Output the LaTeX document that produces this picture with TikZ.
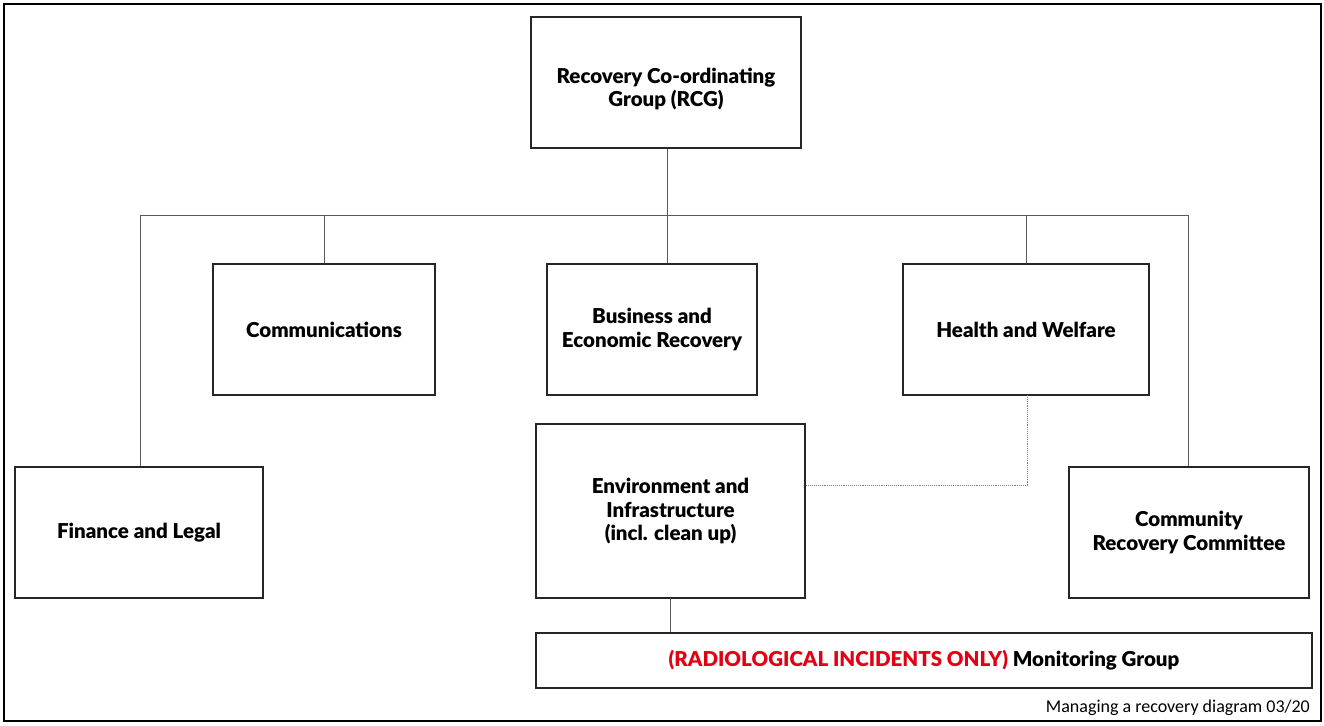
\documentclass[tikz,border=0pt]{standalone}
\usepackage{fontspec}
\setmainfont{Lato}[BoldFont=Lato Black]
\newfontfamily\footfont{Carlito}
\definecolor{radred}{RGB}{228,0,20}
\definecolor{linegray}{RGB}{90,90,90}
\begin{document}
\begin{tikzpicture}[x=1pt,y=-1pt,
  boxtext/.style={align=center,font=\fontsize{20.5}{23.5}\selectfont\bfseries,inner sep=0pt},
  box/.style={boxtext,draw=black!85,line width=1.3pt},
  conn/.style={draw=linegray,line width=0.9pt},
  dconn/.style={draw=gray,line width=0.9pt,densely dotted}]
\useasboundingbox (0,0) rectangle (1324,725);
\draw[line width=2pt] (4,4) rectangle (1321,721);
\newcommand{\bx}[6]{\node[box,minimum width=#4-#2,minimum height=#5-#3] (#1) at ({(#2+#4)/2},{(#3+#5)/2}) {#6};}
\bx{rcg}{531}{17}{801}{148}{}
\node[boxtext] (rcgt) at (666,89) {Recovery Co-ordinating\\Group (RCG)};
\bx{comm}{213}{264}{435}{395}{Communications}
\bx{bus}{547}{264}{757}{395}{Business and\\Economic Recovery}
\bx{health}{903}{264}{1149}{395}{Health and Welfare}
\bx{fin}{15}{467}{263}{598}{Finance and Legal}
\bx{env}{536}{424}{805}{598}{Environment and\\Infrastructure\\(incl. clean up)}
\bx{crc}{1069}{467}{1309}{598}{Community\\Recovery Committee}
\bx{mon}{536}{633}{1312}{688}{{\color{radred}(RADIOLOGICAL INCIDENTS ONLY)} Monitoring Group}
\coordinate (bl) at (140,215);
\coordinate (br) at (1188,215);
\coordinate (bc) at (667,215);
\draw[conn] (rcg.south -| bc) -- (bc);
\draw[conn] (bl) -- (br);
\draw[conn] (bl) -- (bl |- fin.north);
\draw[conn] (br) -- (br |- crc.north);
\draw[conn] (comm.north) -- (comm.north |- bl);
\draw[conn] (bc) -- (bc |- bus.north);
\draw[conn] (health.north) -- (health.north |- bl);
\coordinate (envb) at (670,598);
\draw[conn] (envb) -- (envb |- mon.north);
\coordinate (dk) at (1027,485);
\draw[dconn] (1027,395) -- (dk) -- (dk -| env.east);
\node[anchor=base east,font=\footfont\fontsize{18}{21}\selectfont,inner sep=0pt] (foot) at (1310,712) {Managing a recovery diagram 03/20};
\end{tikzpicture}
\end{document}
